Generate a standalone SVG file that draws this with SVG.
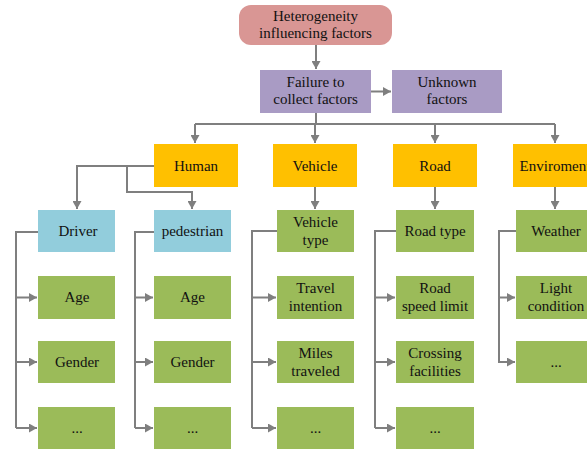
<svg xmlns="http://www.w3.org/2000/svg" width="587" height="453" viewBox="0 0 587 453" font-family="'Liberation Serif', 'DejaVu Serif', serif">
<defs>
<marker id="ah" markerUnits="userSpaceOnUse" markerWidth="9" markerHeight="9" refX="8" refY="4.5" orient="auto">
<path d="M0,0 L8,4.5 L0,9 z" fill="#7F7F7F"/>
</marker>
<style>
text{font-family:'Liberation Serif', 'DejaVu Serif', serif;font-size:15px;fill:#111;text-anchor:middle}
.c{fill:none;stroke:#7F7F7F;stroke-width:2}
.a{marker-end:url(#ah)}
.pink{fill:#D99694}
.pur{fill:#A99BC4}
.org{fill:#FFC000}
.blu{fill:#92CDDC}
.grn{fill:#9BBB59}
</style>
</defs>
<rect width="587" height="453" fill="#fff"/>
<g id="connectors">
<path class="c a" d="M316,45 V69"/>
<path class="c a" d="M371,91.5 H391"/>
<path class="c" d="M316,113 V124 M195,124 H555"/>
<path class="c a" d="M195,124 V143"/>
<path class="c a" d="M315,124 V143"/>
<path class="c a" d="M435,124 V143"/>
<path class="c a" d="M555,124 V143"/>
<path class="c a" d="M154,166 H77 V209"/>
<path class="c a" d="M127,166 V192 H192 V209"/>
<path class="c a" d="M315,187 V209"/>
<path class="c a" d="M435,187 V209"/>
<path class="c a" d="M555,187 V209"/>
<path class="c" d="M38,232 H16 V428"/>
<path class="c a" d="M16,297.5 H37"/>
<path class="c a" d="M16,362 H37"/>
<path class="c a" d="M16,428 H37"/>
<path class="c" d="M154,232 H135 V428"/>
<path class="c a" d="M135,297.5 H153"/>
<path class="c a" d="M135,362 H153"/>
<path class="c a" d="M135,428 H153"/>
<path class="c" d="M277,231 H252 V428"/>
<path class="c a" d="M252,297.5 H276"/>
<path class="c a" d="M252,362 H276"/>
<path class="c a" d="M252,428 H276"/>
<path class="c" d="M396,231 H375 V428"/>
<path class="c a" d="M375,297.5 H395"/>
<path class="c a" d="M375,362 H395"/>
<path class="c a" d="M375,428 H395"/>
<path class="c" d="M516,231 H499 V363"/>
<path class="c a" d="M499,297.5 H515"/>
<path class="c a" d="M499,362 H515"/>
</g>
<g id="heterogeneity"><rect class="pink" x="239" y="5" width="153" height="40" rx="12"/><text x="315.5" y="21">Heterogeneity</text><text x="315.5" y="38">influencing factors</text></g>
<g id="failure"><rect class="pur" x="260" y="70" width="111" height="43"/><text x="315.5" y="87">Failure to</text><text x="315.5" y="104">collect factors</text></g>
<g id="unknown"><rect class="pur" x="392" y="70" width="110" height="43"/><text x="447" y="87">Unknown</text><text x="447" y="104">factors</text></g>
<g id="human"><rect class="org" x="154" y="144" width="84" height="43"/><text x="196" y="170.5">Human</text></g>
<g id="vehicle"><rect class="org" x="273" y="144" width="84" height="43"/><text x="315" y="170.5">Vehicle</text></g>
<g id="road"><rect class="org" x="393" y="144" width="84" height="43"/><text x="435" y="170.5">Road</text></g>
<g id="enviroment"><rect class="org" x="513" y="144" width="84" height="43"/><text x="555" y="170.5">Enviroment</text></g>
<g id="driver"><rect class="blu" x="38" y="210" width="77" height="42"/><text x="78" y="236">Driver</text></g>
<g id="pedestrian"><rect class="blu" x="154" y="210" width="77" height="42"/><text x="192.5" y="236">pedestrian</text></g>
<g id="vehicle-type"><rect class="grn" x="277" y="210" width="77" height="42"/><text x="315.5" y="227">Vehicle</text><text x="315.5" y="245">type</text></g>
<g id="road-type"><rect class="grn" x="396" y="210" width="78" height="42"/><text x="435" y="236">Road type</text></g>
<g id="weather"><rect class="grn" x="516" y="210" width="78" height="42"/><text x="556" y="236">Weather</text></g>
<g id="driver-age"><rect class="grn" x="38" y="276" width="77" height="43"/><text x="77" y="302">Age</text></g>
<g id="driver-gender"><rect class="grn" x="38" y="341" width="77" height="42"/><text x="77" y="367">Gender</text></g>
<g id="driver-more"><rect class="grn" x="38" y="407" width="77" height="42"/><text x="77" y="433">...</text></g>
<g id="ped-age"><rect class="grn" x="154" y="276" width="77" height="43"/><text x="192.5" y="302">Age</text></g>
<g id="ped-gender"><rect class="grn" x="154" y="341" width="77" height="42"/><text x="192.5" y="367">Gender</text></g>
<g id="ped-more"><rect class="grn" x="154" y="407" width="77" height="42"/><text x="192.5" y="433">...</text></g>
<g id="travel-intention"><rect class="grn" x="277" y="276" width="77" height="43"/><text x="315.5" y="293">Travel</text><text x="315.5" y="311">intention</text></g>
<g id="miles-traveled"><rect class="grn" x="277" y="341" width="77" height="42"/><text x="315.5" y="358">Miles</text><text x="315.5" y="376">traveled</text></g>
<g id="vehicle-more"><rect class="grn" x="277" y="407" width="77" height="42"/><text x="315.5" y="433">...</text></g>
<g id="speed-limit"><rect class="grn" x="396" y="276" width="78" height="43"/><text x="435" y="293">Road</text><text x="435" y="311">speed limit</text></g>
<g id="crossing"><rect class="grn" x="396" y="341" width="78" height="42"/><text x="435" y="358">Crossing</text><text x="435" y="376">facilities</text></g>
<g id="road-more"><rect class="grn" x="396" y="407" width="78" height="42"/><text x="435" y="433">...</text></g>
<g id="light"><rect class="grn" x="516" y="276" width="78" height="43"/><text x="556" y="293">Light</text><text x="556" y="311">condition</text></g>
<g id="env-more"><rect class="grn" x="516" y="341" width="78" height="42"/><text x="556" y="367">...</text></g>
</svg>
